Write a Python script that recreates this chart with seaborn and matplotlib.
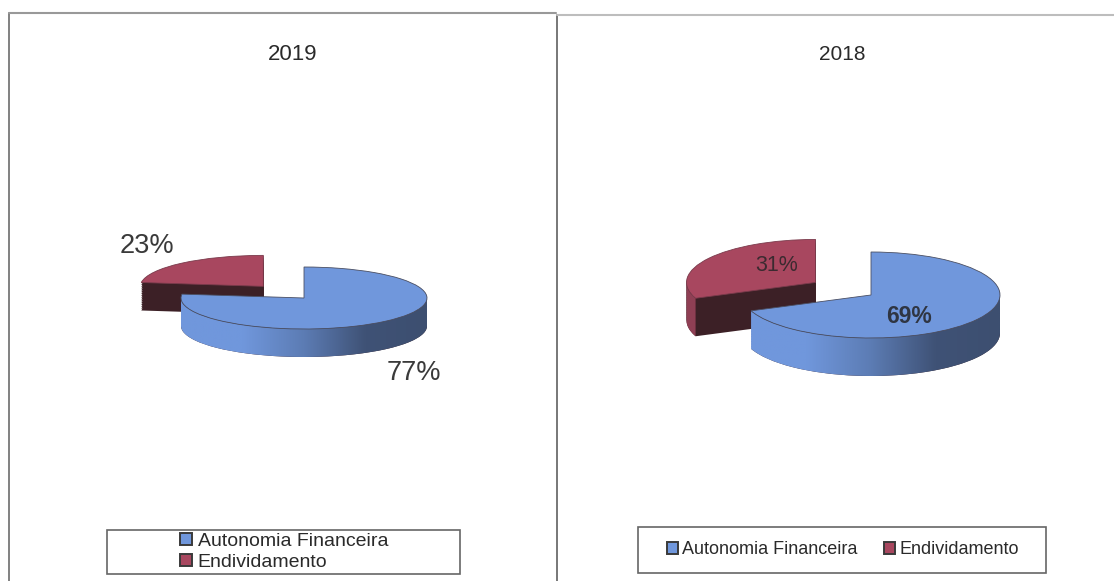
import matplotlib
matplotlib.use("Agg")
import matplotlib.pyplot as plt
import numpy as np
import seaborn as sns
from matplotlib.colors import LinearSegmentedColormap
from matplotlib.patches import Polygon, Rectangle

W, H = 1114, 581

categories = ["Autonomia Financeira", "Endividamento"]
years = ["2019", "2018"]
shares_2019 = [77, 23]
shares_2018 = [69, 31]

sns.set_theme(style="white")
plt.rcParams["font.family"] = ["Liberation Sans", "DejaVu Sans"]

palette = sns.color_palette(["#7097dc", "#a8475f"])
SIDE_DARK = "#3c2026"
TEXT = "#3a3a3a"


def fx(px):
    return px / W


def fy(py):
    return 1 - py / H


def rim(wedge, depth, **kw):
    # front-facing part of the outer edge, dropped by depth
    lo = max(wedge.theta1, -180)
    hi = min(wedge.theta2, 0)
    if lo >= hi:
        return None
    a = np.radians(np.linspace(lo, hi, 120))
    cx, cy = wedge.center
    x = cx + np.cos(a)
    y = cy + np.sin(a)
    pts = np.r_[np.c_[x, y], np.c_[x, y - depth][::-1]]
    return Polygon(pts, closed=True, **kw)


def draw_slice(ax, shares, i, explode, depth, base):
    ex = [0, 0]
    ex[i] = explode[i]
    vals = np.array(shares, dtype=float)
    # the dark body of the slice
    for off in np.linspace(depth, 0.02, 16):
        wedges, _ = ax.pie(vals, explode=ex, startangle=90, counterclock=False,
                           colors=[SIDE_DARK, SIDE_DARK], center=(0, -off),
                           wedgeprops={"linewidth": 0})
        wedges[1 - i].set_visible(False)
        wedges[i].set_zorder(base)
    wedges, _ = ax.pie(vals, explode=ex, startangle=90, counterclock=False,
                       colors=palette, center=(0, 0),
                       wedgeprops={"linewidth": 0.6, "edgecolor": "#4a4f63" if i == 0 else "#7a3b4c"})
    wedges[1 - i].set_visible(False)
    top = wedges[i]
    top.set_zorder(base + 2)

    if i == 0:
        band = rim(top, depth, facecolor="none", edgecolor="none", zorder=base)
        ax.add_patch(band)
        cmap = LinearSegmentedColormap.from_list(
            "side", ["#7097dc", "#7097dc", "#5c7cb4", "#3f5276", "#3d4f70"])
        im = ax.imshow(np.linspace(0, 1, 256)[None, :], cmap=cmap, aspect="auto",
                       extent=(-1, 1, -1.0 - depth, 1.0), zorder=base + 1)
        im.set_clip_path(band)
    else:
        band = rim(top, depth, facecolor="#8f3f54", edgecolor="none", zorder=base + 1)
        if band is not None:
            ax.add_patch(band)


def draw_pie(fig, panel, shares, cx, cy, rx, ry, depth_px, explode):
    # panel is the pixel box the axes covers, pie centre given in pixels
    left, top, right, bottom = panel
    ax = fig.add_axes([fx(left), fy(bottom), fx(right - left), (bottom - top) / H])
    ax.set_facecolor("none")
    depth = depth_px / ry

    # red slice first so that the blue one overlaps it
    draw_slice(ax, shares, 1, explode, depth, 1)
    draw_slice(ax, shares, 0, explode, depth, 10)

    ax.set_aspect("auto")
    ax.set_xlim((left - cx) / rx, (right - cx) / rx)
    ax.set_ylim((cy - bottom) / ry, (cy - top) / ry)
    ax.set_axis_off()
    return ax


def legend_box(fig, x0, y0, x1, y1):
    fig.add_artist(Rectangle((fx(x0), fy(y1)), (x1 - x0) / W, (y1 - y0) / H,
                             transform=fig.transFigure, facecolor="white",
                             edgecolor="#666666", linewidth=1.2))


fig = plt.figure(figsize=(W / 100, H / 100), dpi=100)
fig.patch.set_facecolor("white")

# panel frames
line = dict(transform=fig.transFigure)
fig.add_artist(plt.Line2D([fx(8.5), fx(8.5)], [fy(13), 0], color="#777777", lw=1.3, **line))
fig.add_artist(plt.Line2D([fx(8.5), fx(556)], [fy(13), fy(13)], color="#999999", lw=1.5, **line))
fig.add_artist(plt.Line2D([fx(557), fx(557)], [fy(15), 0], color="#777777", lw=1.4, **line))
fig.add_artist(plt.Line2D([fx(557), 1], [fy(15), fy(15)], color="#bdbdbd", lw=1.5, **line))

draw_pie(fig, (10, 60, 555, 500), shares_2019, 304, 298, 123, 31, 28, [0, 0.5])
draw_pie(fig, (559, 60, 1110, 500), shares_2018, 871, 295, 129, 43, 38, [0, 0.52])

# titles
fig.text(fx(293), fy(54), years[0], ha="center", va="center", fontsize=16, color="#2a2a2a")
fig.text(fx(842), fy(54), years[1], ha="center", va="center", fontsize=15, color="#2a2a2a")

# value labels
fig.text(fx(147), fy(246), f"{shares_2019[1]}%", ha="center", va="center", fontsize=19.5, color=TEXT)
fig.text(fx(414), fy(373), f"{shares_2019[0]}%", ha="center", va="center", fontsize=19.5, color=TEXT)
fig.text(fx(777), fy(266), f"{shares_2018[1]}%", ha="center", va="center", fontsize=15.5, color="#3b2a30", zorder=10)
fig.text(fx(909), fy(316), f"{shares_2018[0]}%", ha="center", va="center", fontsize=16.5, color="#2f3542",
         fontweight="bold", zorder=10)

# legends
legend_box(fig, 107, 530, 460, 574)
legend_box(fig, 638, 527, 1046, 573)
handles = [Rectangle((0, 0), 1, 1, facecolor=c, edgecolor="#3a3a3a", linewidth=1.4) for c in palette]
fig.legend(handles, categories, loc="center", bbox_to_anchor=(fx(284), fy(552)), ncol=1, frameon=False,
           fontsize=14, labelcolor="#2a2a2a", handlelength=0.6, handleheight=0.6, handletextpad=0.3,
           labelspacing=0.2, borderpad=0)
fig.legend(handles, categories, loc="center", bbox_to_anchor=(fx(843), fy(550)), ncol=2, frameon=False,
           fontsize=13, labelcolor="#2a2a2a", handlelength=0.6, handleheight=0.6, handletextpad=0.25,
           columnspacing=1.5, borderpad=0)

fig.savefig("out.png", dpi=100)
